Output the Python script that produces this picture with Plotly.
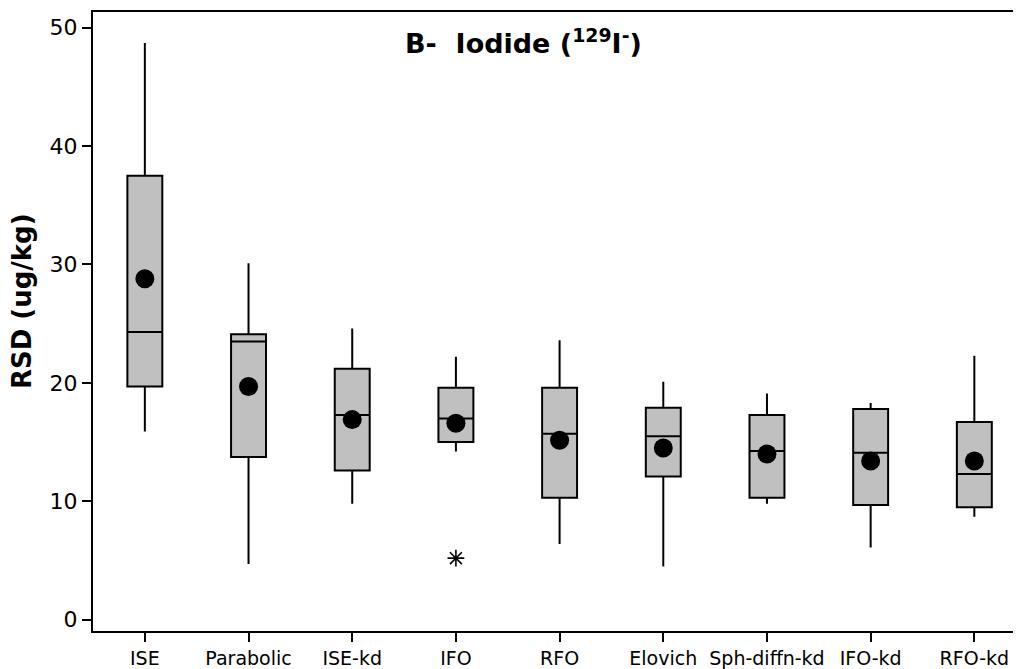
import plotly.graph_objects as go

categories = ["ISE", "Parabolic", "ISE-kd", "IFO", "RFO", "Elovich", "Sph-diffn-kd", "IFO-kd", "RFO-kd"]
lower_whisker = [15.9, 4.7, 9.8, 14.2, 6.4, 4.5, 9.8, 6.1, 8.7]
q1 = [19.7, 13.75, 12.6, 15.0, 10.3, 12.1, 10.3, 9.7, 9.5]
median = [24.3, 23.5, 17.3, 17.0, 15.7, 15.5, 14.25, 14.1, 12.3]
q3 = [37.5, 24.1, 21.2, 19.6, 19.6, 17.9, 17.3, 17.8, 16.7]
upper_whisker = [48.7, 30.1, 24.6, 22.2, 23.6, 20.1, 19.1, 18.3, 22.3]
means = [28.8, 19.7, 16.9, 16.6, 15.15, 14.5, 14.0, 13.4, 13.4]
outlier_cat = ["IFO"]
outlier_val = [5.2]

y_ticks = [0, 10, 20, 30, 40, 50]

FONT = "DejaVu Sans"

fig = go.Figure()
fig.add_trace(go.Box(
    x=categories, q1=q1, median=median, q3=q3,
    lowerfence=lower_whisker, upperfence=upper_whisker,
    fillcolor="#C0C0C0", line=dict(color="black", width=2),
    width=0.337, whiskerwidth=0, boxpoints=False, showlegend=False,
))
fig.add_trace(go.Scatter(
    x=categories, y=means, mode="markers",
    marker=dict(color="black", size=19), showlegend=False,
))
fig.add_trace(go.Scatter(
    x=outlier_cat, y=outlier_val, mode="markers",
    marker=dict(symbol="asterisk-open", color="black", size=14,
                line=dict(color="black", width=1.6)),
    showlegend=False,
))

fig.update_layout(
    width=1013, height=661,
    margin=dict(l=85, r=0, t=4, b=36),
    plot_bgcolor="white", paper_bgcolor="white",
    font=dict(family=FONT, color="black"),
    xaxis=dict(
        type="category", categoryorder="array", categoryarray=categories,
        range=[-0.5, 8.45], showgrid=False, zeroline=False,
        showline=True, linecolor="black", linewidth=2, mirror=True,
        ticks="outside", ticklen=9, tickwidth=2, tickcolor="black",
        tickfont=dict(size=19, family=FONT),
    ),
    yaxis=dict(
        range=[-0.95, 51.32], tickvals=y_ticks, showgrid=False, zeroline=False,
        showline=True, linecolor="black", linewidth=2, mirror=False,
        ticks="outside", ticklen=9, tickwidth=2, tickcolor="black",
        tickfont=dict(size=22, family=FONT),
    ),
    annotations=[
        dict(text="<b>B-\u00a0 Iodide (<sup>129</sup>I<sup>-</sup>)</b>",
             xref="paper", yref="paper", x=0.4644, y=0.9517,
             xanchor="center", yanchor="middle", showarrow=False,
             font=dict(size=27, family=FONT, color="black")),
        dict(text="<b>RSD (ug/kg)</b>", xref="paper", yref="paper",
             x=-0.0765, y=0.533, xanchor="center", yanchor="middle",
             textangle=-90, showarrow=False,
             font=dict(size=26, family=FONT, color="black")),
    ],
)

fig.write_html("out.html")
